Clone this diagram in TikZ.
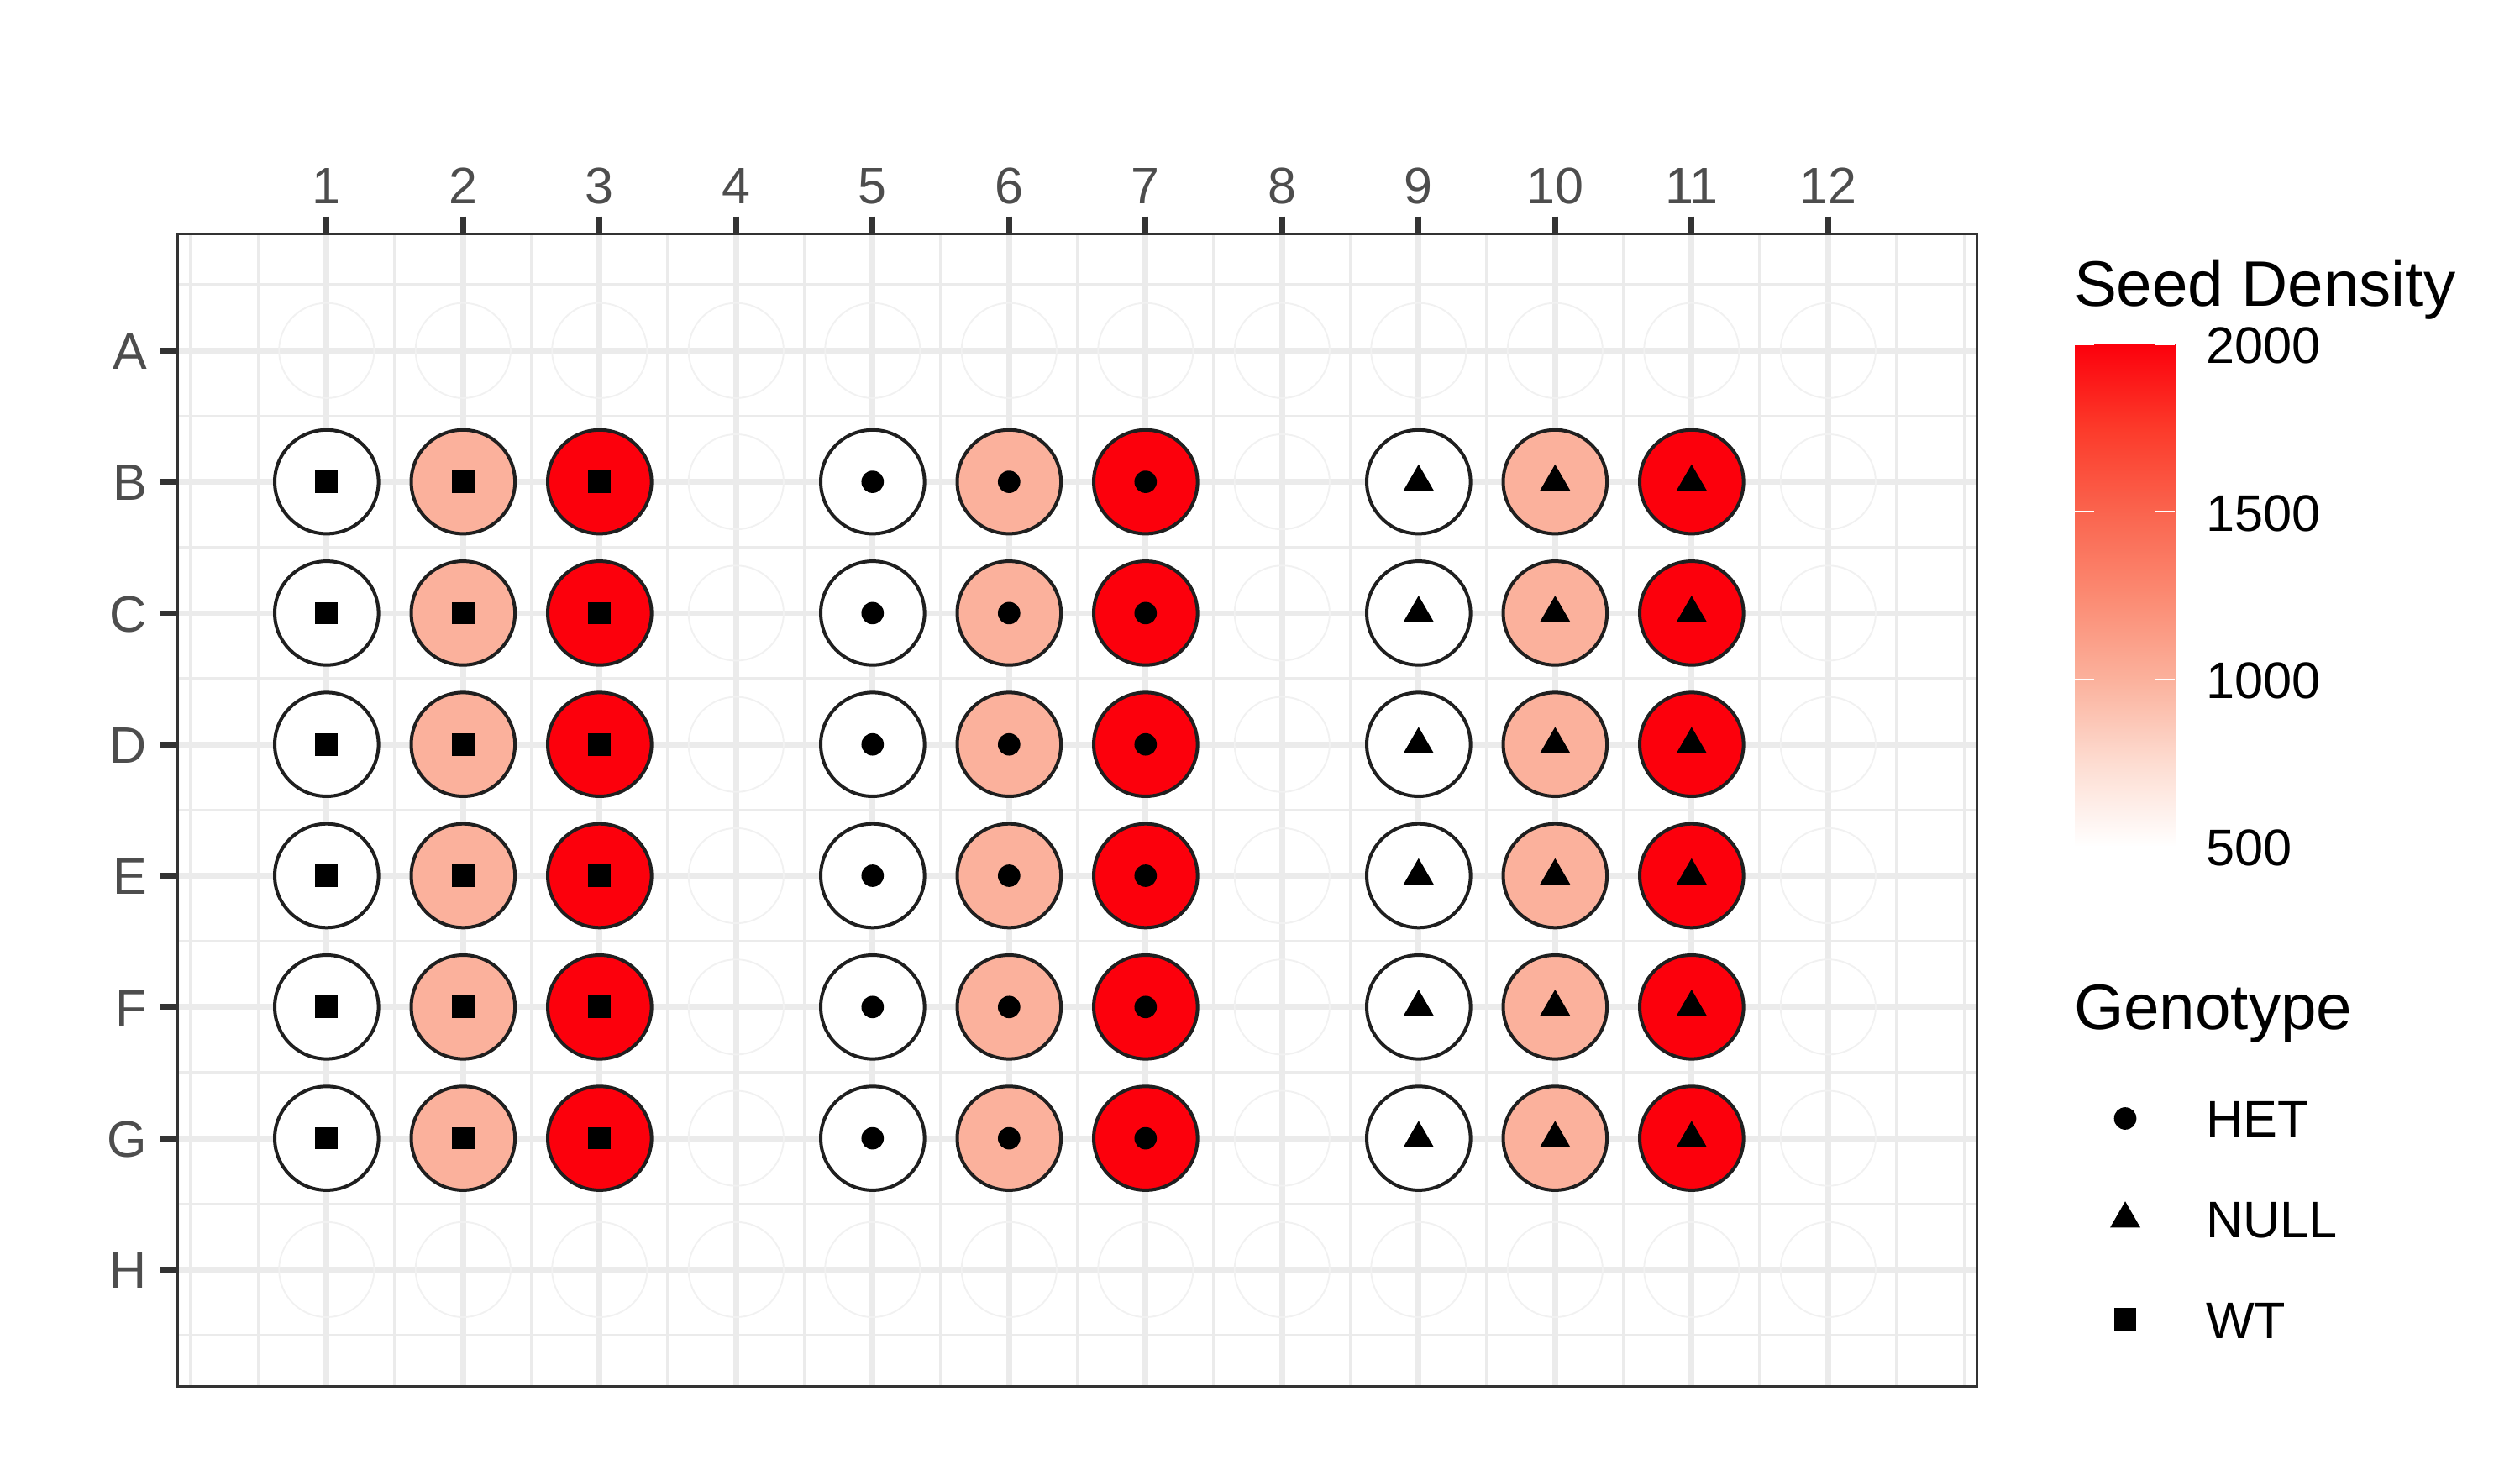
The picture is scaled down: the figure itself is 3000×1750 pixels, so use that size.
\documentclass[tikz,border=0pt]{standalone}
\usepackage{fontspec}
\setmainfont{Liberation Sans}
\definecolor{gridgrey}{HTML}{EBEBEB}
\definecolor{wellgrey}{HTML}{F1F1F1}
\definecolor{axisgrey}{HTML}{4D4D4D}
\definecolor{bordergrey}{HTML}{333333}
\definecolor{salmon}{RGB}{251,177,156}
\definecolor{cred}{RGB}{252,0,12}
\definecolor{cA}{RGB}{253,220,209}
\definecolor{cB}{RGB}{251,177,156}
\definecolor{cC}{RGB}{251,138,114}
\definecolor{cD}{RGB}{250,100,78}
\definecolor{cE}{RGB}{252,58,42}
\pgfdeclareverticalshading{cbar}{100bp}{color(0bp)=(white); color(25bp)=(white); color(33.333bp)=(cA); color(41.667bp)=(cB); color(50bp)=(cC); color(58.333bp)=(cD); color(66.667bp)=(cE); color(75bp)=(cred); color(100bp)=(cred)}
\begin{document}
\begin{tikzpicture}[x=0.24bp,y=-0.24bp,
  minorgrid/.style={gridgrey,line width=0.82bp},
  majorgrid/.style={gridgrey,line width=1.63bp},
  axtick/.style={bordergrey,line width=1.63bp},
  wellbg/.style={circle,draw=wellgrey,line width=0.45bp,minimum size=27.17bp,inner sep=0pt},
  well/.style={circle,draw=black!88,line width=0.96bp,minimum size=29.66bp,inner sep=0pt},
  sqmark/.style={rectangle,fill=black,minimum size=6.4bp,inner sep=0pt},
  dotmark/.style={circle,fill=black,minimum size=6.4bp,inner sep=0pt},
  axlabel/.style={text=axisgrey,font=\fontsize{14.7pt}{17pt}\selectfont,inner sep=0pt,outer sep=0pt},
  legtext/.style={text=black,font=\fontsize{14.75pt}{17pt}\selectfont,inner sep=0pt,outer sep=0pt,anchor=base west},
  legtitle/.style={text=black,font=\fontsize{18.4pt}{21pt}\selectfont,inner sep=0pt,outer sep=0pt,anchor=base west},
  cbtick/.style={white,line width=0.4bp}]
\useasboundingbox (0,0) rectangle (3000,1750);
\fill[white] (0,0) rectangle (3000,1750);

% ---------- panel ----------
\begin{scope}
\clip (210,277) rectangle (2355,1652);
% minor grid
\foreach \u in {0,0.5,1.5,2.5,3.5,4.5,5.5,6.5,7.5,8.5,9.5,10.5,11.5,12.5,13}{
  \pgfmathsetmacro\xx{388.8+(\u-1)*162.5}
  \draw[minorgrid] (\xx,277) -- (\xx,1652);
}
\foreach \v in {0.5,1.5,2.5,3.5,4.5,5.5,6.5,7.5,8.5}{
  \pgfmathsetmacro\yy{417.3+(\v-1)*156.3}
  \draw[minorgrid] (210,\yy) -- (2355,\yy);
}
% major grid
\foreach \c in {1,...,12}{
  \pgfmathsetmacro\xx{388.8+(\c-1)*162.5}
  \draw[majorgrid] (\xx,277) -- (\xx,1652);
}
\foreach \r in {1,...,8}{
  \pgfmathsetmacro\yy{417.3+(\r-1)*156.3}
  \draw[majorgrid] (210,\yy) -- (2355,\yy);
}
% empty wells
\foreach \r in {1,...,8}{
  \foreach \c in {1,...,12}{
    \pgfmathsetmacro\xx{388.8+(\c-1)*162.5}
    \pgfmathsetmacro\yy{417.3+(\r-1)*156.3}
    \node[wellbg] (bg-\r-\c) at (\xx,\yy) {};
  }
}
% WT wells (squares)
\foreach \c/\fc in {1/white,2/salmon,3/cred}{
  \foreach \r in {2,...,7}{
    \node[well,fill=\fc] (w-\r-\c) at (bg-\r-\c.center) {};
    \node[sqmark] (m-\r-\c) at (w-\r-\c.center) {};
  }
}
% HET wells (dots)
\foreach \c/\fc in {5/white,6/salmon,7/cred}{
  \foreach \r in {2,...,7}{
    \node[well,fill=\fc] (w-\r-\c) at (bg-\r-\c.center) {};
    \node[dotmark] (m-\r-\c) at (w-\r-\c.center) {};
  }
}
% NULL wells (triangles)
\foreach \c/\fc in {9/white,10/salmon,11/cred}{
  \foreach \r in {2,...,7}{
    \node[well,fill=\fc] (w-\r-\c) at (bg-\r-\c.center) {};
    \fill[black] (w-\r-\c.center) ++(0,-20.8) -- ++(18,31.2) -- ++(-36,0) -- cycle;
  }
}
% border (inner half visible)
\draw[bordergrey,line width=0.8bp] (211.67,278.67) rectangle (2353.33,1650.33);
\end{scope}

% ---------- axes ----------
\foreach \c in {1,...,12}{
  \pgfmathsetmacro\xx{388.8+(\c-1)*162.5}
  \draw[axtick] (\xx,257.7) -- (\xx,277);
  \node[axlabel,anchor=base] (xl-\c) at (\xx,242.7) {\c};
}
\foreach \r/\lab in {1/A,2/B,3/C,4/D,5/E,6/F,7/G,8/H}{
  \pgfmathsetmacro\yy{417.3+(\r-1)*156.3}
  \draw[axtick] (190.7,\yy) -- (210,\yy);
  \pgfmathsetmacro\yb{\yy+22.3}
  \node[axlabel,anchor=base east] (yl-\r) at (175,\yb) {\lab};
}

% ---------- legend: Seed Density ----------
\node[legtitle] (sdtitle) at (2469,365) {Seed Density};
\path[shading=cbar] (2470,410) rectangle (2589.3,1008);
\coordinate (cbtop) at (2470,410);
\foreach \v/\yy in {2000/410,1500/609.3,1000/808.7,500/1008}{
  \draw[cbtick] (2470,\yy) -- (2493,\yy);
  \draw[cbtick] (2566,\yy) -- (2589.3,\yy);
  \pgfmathsetmacro\yb{\yy+22.9}
  \node[legtext] (cb-\v) at (2626,\yb) {\v};
}

% ---------- legend: Genotype ----------
\node[legtitle] (gttitle) at (2469,1225) {Genotype};
\node[dotmark] (k-het) at (2530,1331.5) {};
\node[legtext] (l-het) at (2626,1353.3) {HET};
\coordinate (k-null) at (2530,1451);
\fill[black] (k-null) ++(0,-20.8) -- ++(18,31.2) -- ++(-36,0) -- cycle;
\node[legtext] (l-null) at (2626,1473.3) {NULL};
\node[sqmark] (k-wt) at (2530,1570.5) {};
\node[legtext] (l-wt) at (2626,1593.3) {WT};
\end{tikzpicture}
\end{document}
